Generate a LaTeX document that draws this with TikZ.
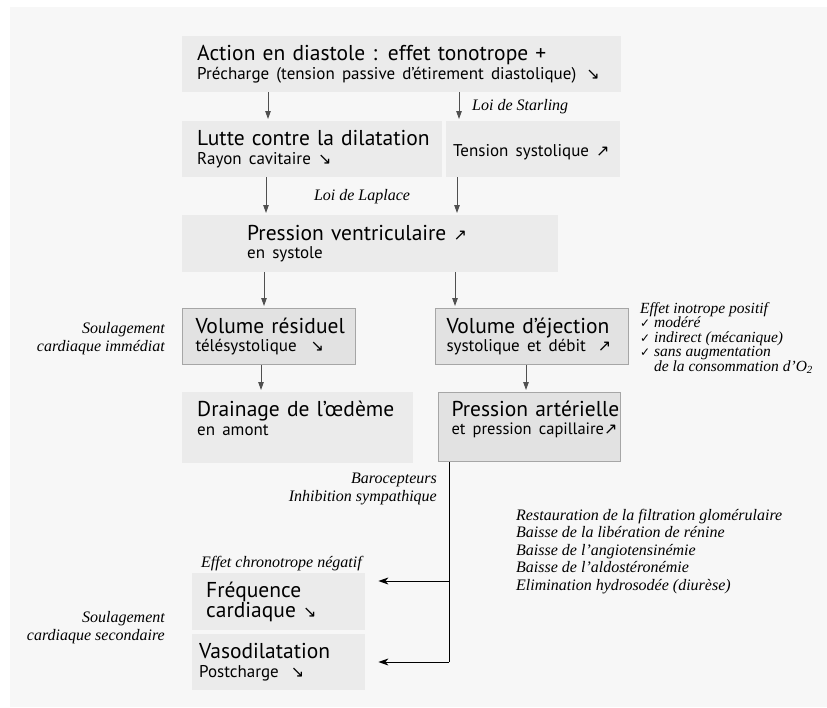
\documentclass[tikz,border=0pt]{standalone}
\usepackage{fontspec}
\setmainfont{Liberation Serif}
\newfontfamily\myr[WordSpace=0.8]{PT Sans}
\newfontfamily\symf{DejaVu Sans}
\usetikzlibrary{arrows.meta}
\definecolor{bgc}{HTML}{F7F7F7}
\definecolor{boxc}{HTML}{EBEBEB}
\definecolor{boxd}{HTML}{E2E2E2}
\definecolor{boxl}{HTML}{A6A6A6}
\definecolor{arrc}{HTML}{505050}
\newcommand{\adn}{{\symf\fontsize{16}{16}\selectfont ↘}}
\newcommand{\aup}{{\symf\fontsize{16}{16}\selectfont ↗}}
\newcommand{\chk}{{\symf\fontsize{12}{12}\selectfont ✓}}
\newcommand{\sm}{\fontsize{17}{18.5}\selectfont}
\begin{document}
\begin{tikzpicture}[x=1pt,y=-1pt,
 box/.style={fill=boxc, anchor=north west, inner xsep=0pt, inner ysep=0pt, align=left, font=\myr\fontsize{21.5}{18.5}\selectfont},
 boxb/.style={box, fill=boxd, draw=boxl, line width=1pt},
 gar/.style={draw=arrc, line width=0.9pt, shorten >=2pt, -{Triangle[length=8pt,width=5.5pt]}},
 bar/.style={draw=black, line width=1pt, -{Stealth[length=10pt,width=7pt,inset=3pt]}},
 note/.style={font=\itshape\fontsize{16}{17.5}\selectfont, inner sep=0pt}
]
\useasboundingbox (0,0) rectangle (827,707);
\fill[white] (0,0) rectangle (827,707);
\fill[bgc] (10,7) rectangle (827,707);

\node[box, text width=439pt, minimum height=56pt] (act) at (182,36)
 {\hspace*{15pt}Action en diastole : effet tonotrope +\\\hspace*{15pt}{\sm Précharge (tension passive d’étirement diastolique)\hspace{10pt}\adn}};
\node[box, text width=260pt, minimum height=56pt] (lut) at (182,121)
 {\hspace*{15pt}Lutte contre la dilatation\\\hspace*{15pt}{\sm Rayon cavitaire \adn}};
\node[box, text width=174pt, minimum height=56pt] (ten) at (446,121)
 {\mbox{}\\\hspace*{7pt}{\sm Tension systolique \aup}};
\node[box, text width=376pt, minimum height=57pt] (pv) at (182,215)
 {\hspace*{65pt}Pression ventriculaire \aup\\\hspace*{65pt}{\sm en systole}};
\node[boxb, text width=173pt, minimum height=56pt] (vr) at (182,308)
 {\hspace*{13pt}Volume résiduel\\\hspace*{13pt}{\sm télésystolique\hspace{14pt}\adn}};
\node[boxb, text width=193pt, minimum height=56pt] (ve) at (435,308)
 {\hspace*{11pt}Volume d’éjection\\\hspace*{11pt}{\sm systolique et débit\hspace{12pt}\aup}};
\node[box, text width=231pt, minimum height=71pt] (dr) at (182,392)
 {\hspace*{15pt}Drainage de l’œdème\\\hspace*{15pt}{\sm en amont}\\\mbox{}};
\node[boxb, text width=182pt, minimum height=69pt] (pa) at (438,392)
 {\hspace*{13pt}Pression artérielle\\\hspace*{13pt}\mbox{\fontsize{16.5}{18.5}\selectfont et pression capillaire\aup}\\\mbox{}};
\node[box, text width=173pt, minimum height=57pt] (fc) at (192,573)
 {\hspace*{14pt}Fréquence\\\hspace*{14pt}cardiaque \adn};
\node[box, text width=173pt, minimum height=56pt] (va) at (192,634)
 {\hspace*{7pt}Vasodilatation\\\hspace*{7pt}{\sm Postcharge\hspace{12pt}\adn}};

\node[note, anchor=base west] (starling) at (472,110) {Loi de Starling};
\node[note, anchor=base] (laplace) at (362,200) {Loi de Laplace};
\node[note, align=right, anchor=base east] (soul1) at (165,351) {Soulagement\\cardiaque immédiat};
\node[note, align=left, anchor=base west, font=\itshape\fontsize{15.5}{14.5}\selectfont] (inotr) at (640,371)
 {Effet inotrope positif\\\chk\ modéré\\\chk\ indirect (mécanique)\\\chk\ sans augmentation\\\phantom{\chk\ }de la consommation d’O\textsubscript{2}};
\node[note, align=right, anchor=base east] (baro) at (437,501) {Barocepteurs\\Inhibition sympathique};
\node[note, align=left, anchor=base west] (renal) at (516,590)
 {Restauration de la filtration glomérulaire\\Baisse de la libération de rénine\\Baisse de l’angiotensinémie\\Baisse de l’aldostéronémie\\Elimination hydrosodée (diurèse)};
\node[note, anchor=base west] (chrono) at (201,567) {Effet chronotrope négatif};
\node[note, align=right, anchor=base east] (soul2) at (165,640) {Soulagement\\cardiaque secondaire};

\draw[gar] (268,0 |- act.south) -- (268,0 |- lut.north);
\draw[gar] (459,0 |- act.south) -- (459,0 |- ten.north);
\draw[gar] (266,0 |- lut.south) -- (266,0 |- pv.north);
\draw[gar] (457,0 |- ten.south) -- (457,0 |- pv.north);
\draw[gar] (264,0 |- pv.south) -- (264,0 |- vr.north);
\draw[gar] (455,0 |- pv.south) -- (455,0 |- ve.north);
\draw[gar] (261,0 |- vr.south) -- (261,0 |- dr.north);
\draw[gar] (526,0 |- ve.south) -- (526,0 |- pa.north);

\coordinate (j1) at (449,581);
\coordinate (j2) at (449,662);
\draw[black, line width=1pt] (449,0 |- pa.south) -- (j2);
\draw[bar, shorten >=13pt] (j1) -- (fc.east |- j1);
\draw[bar, shorten >=13pt] (j2) -- (va.east |- j2);
\end{tikzpicture}
\end{document}
